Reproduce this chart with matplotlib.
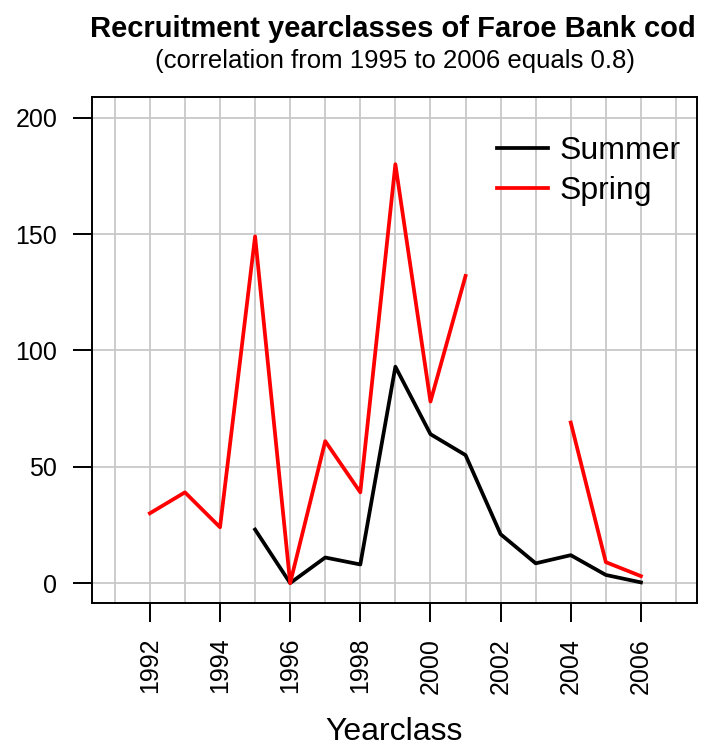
"""Recruitment yearclasses of Faroe Bank cod."""

import numpy as np
import matplotlib
matplotlib.use("Agg")
import matplotlib.pyplot as plt

years = np.arange(1992, 2007)
summer = [np.nan, np.nan, np.nan, 23, 0, 11, 8, 93, 64, 55, 21, 8.5, 12, 3.5, 0.3]
spring = [30, 39, 24, 149, 0, 61, 39, 180, 78, 132, np.nan, np.nan, 69, 9, 3]
xticks = np.arange(1992, 2007, 2)
yticks = [0, 50, 100, 150, 200]

plt.rcParams["font.family"] = ["Liberation Sans", "DejaVu Sans"]

fig = plt.figure(figsize=(7.06, 7.52), dpi=100)
ax = fig.add_axes([0.1303, 0.198, 0.857, 0.673])

# grid at every year
for yr in range(1991, 2008):
    ax.axvline(yr, color="#c8c8c8", lw=1.3, zorder=0)
for v in yticks:
    ax.axhline(v, color="#c8c8c8", lw=1.3, zorder=0)

ax.plot(years, summer, color="black", lw=2.7, label="Summer")
ax.plot(years, spring, color="red", lw=2.7, label="Spring")

ax.set_xlim(1990.35, 2007.6)
ax.set_ylim(-8.6, 208.9)
ax.set_xticks(xticks)
ax.set_xticklabels([str(x) for x in xticks], rotation=90)
ax.set_yticks(yticks)
ax.tick_params(labelsize=18, length=14, width=1.4, pad=11, colors="black")
for s in ax.spines.values():
    s.set_linewidth(1.4)

ax.set_xlabel("Yearclass", fontsize=23, labelpad=17)

ax.legend(loc="upper left", bbox_to_anchor=(0.669, 0.922), frameon=False,
          fontsize=23, handlelength=1.6, handletextpad=0.37, borderpad=0,
          borderaxespad=0, labelspacing=0.3)

fig.text(0.557, 0.961, "Recruitment yearclasses of Faroe Bank cod",
         ha="center", va="center", fontsize=21, fontweight="bold")
fig.text(0.559, 0.919, "(correlation from 1995 to 2006 equals 0.8)",
         ha="center", va="center", fontsize=18.5)

fig.savefig("out.png", dpi=100)
